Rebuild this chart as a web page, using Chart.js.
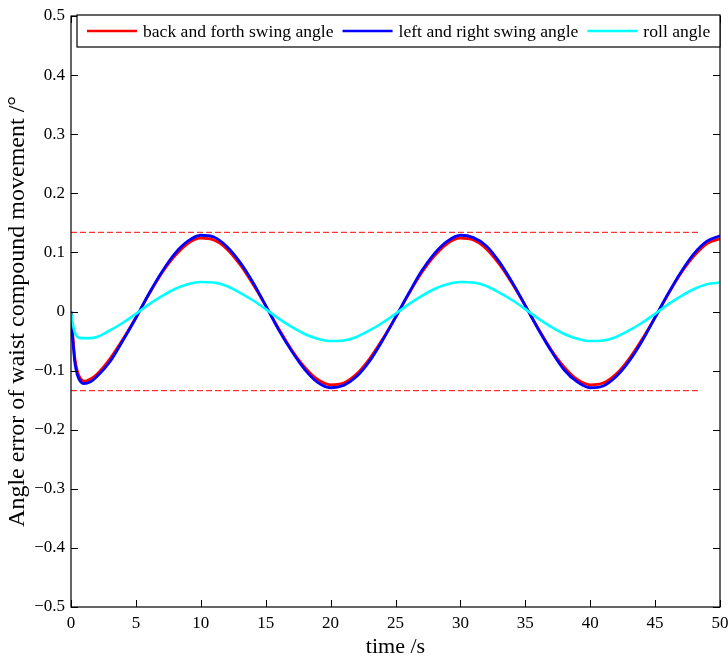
<!DOCTYPE html>
<html>
<head>
<meta charset="utf-8">
<script src="https://cdn.jsdelivr.net/npm/chart.js@4/dist/chart.umd.min.js"></script>
<style>
  html, body { margin: 0; padding: 0; background: #fff; }
  #wrap { width: 728px; height: 658px; }
</style>
</head>
<body>
<div id="wrap"><canvas id="c" width="728" height="658"></canvas></div>
<script>
// time samples (s)
const time = [0, 0.15, 0.3, 0.5, 0.75, 1, 1.5,
  2, 3, 4, 5, 6, 7, 8, 9, 10, 11, 12, 13, 14, 15, 16, 17, 18, 19, 20,
  21, 22, 23, 24, 25, 26, 27, 28, 29, 30, 31, 32, 33, 34, 35, 36, 37, 38, 39, 40,
  41, 42, 43, 44, 45, 46, 47, 48, 49, 50];

// back and forth swing angle error (°)
const backForth = [0, -0.045, -0.08, -0.102, -0.114, -0.118, -0.114,
  -0.106, -0.080, -0.047, -0.010, 0.029, 0.065, 0.094, 0.115, 0.124, 0.121, 0.106, 0.080, 0.047, 0.010,
  -0.029, -0.065, -0.094, -0.115, -0.124,
  -0.121, -0.106, -0.080, -0.047, -0.010, 0.029, 0.065, 0.094, 0.115, 0.124, 0.121, 0.106, 0.080, 0.047, 0.010,
  -0.029, -0.065, -0.094, -0.115, -0.124,
  -0.121, -0.106, -0.080, -0.047, -0.010, 0.029, 0.065, 0.094, 0.115, 0.123];

// left and right swing angle error (°)
const leftRight = [0, -0.05, -0.087, -0.108, -0.119, -0.122, -0.119,
  -0.110, -0.085, -0.049, -0.011, 0.030, 0.067, 0.098, 0.119, 0.129, 0.126, 0.110, 0.084, 0.050, 0.010,
  -0.031, -0.067, -0.098, -0.120, -0.129,
  -0.125, -0.110, -0.084, -0.049, -0.010, 0.030, 0.068, 0.098, 0.119, 0.129, 0.125, 0.111, 0.084, 0.049, 0.010,
  -0.030, -0.067, -0.099, -0.119, -0.129,
  -0.126, -0.110, -0.084, -0.050, -0.010, 0.030, 0.067, 0.098, 0.119, 0.128];

// roll angle error (°)
const roll = [0, -0.022, -0.036, -0.043, -0.045, -0.045, -0.045,
  -0.043, -0.032, -0.019, -0.004, 0.012, 0.026, 0.038, 0.046, 0.050, 0.049, 0.043, 0.032, 0.019, 0.004,
  -0.012, -0.026, -0.038, -0.046, -0.050,
  -0.049, -0.043, -0.032, -0.019, -0.004, 0.012, 0.026, 0.038, 0.046, 0.050, 0.049, 0.043, 0.032, 0.019, 0.004,
  -0.012, -0.026, -0.038, -0.046, -0.050,
  -0.049, -0.043, -0.032, -0.019, -0.004, 0.012, 0.026, 0.038, 0.046, 0.049];

// error bound lines
const boundTime = [0, 48.5];
const upperBound = [0.134, 0.134];
const lowerBound = [-0.134, -0.134];

const xTicks = [0, 5, 10, 15, 20, 25, 30, 35, 40, 45, 50];
const yTicks = [-0.5, -0.4, -0.3, -0.2, -0.1, 0, 0.1, 0.2, 0.3, 0.4, 0.5];

const seriesLabels = ['back and forth swing angle', 'left and right swing angle', 'roll angle'];
const seriesColors = ['#ff0000', '#0000ff', '#00ffff'];

const pts = (xs, ys) => xs.map((x, i) => ({ x: x, y: ys[i] }));

const FONT = '"Liberation Serif", "Times New Roman", serif';
Chart.defaults.font.family = FONT;
Chart.defaults.color = '#000';

// axes box with inward ticks on all four sides
const frame = {
  id: 'frame',
  afterDatasetsDraw(chart) {
    const { ctx, chartArea: a, scales } = chart;
    ctx.save();
    ctx.strokeStyle = '#000';
    ctx.lineWidth = 1.2;
    ctx.strokeRect(a.left, a.top, a.right - a.left, a.bottom - a.top);
    const L = 7;
    ctx.beginPath();
    xTicks.forEach(v => {
      const px = Math.round(scales.x.getPixelForValue(v)) + 0.5;
      ctx.moveTo(px, a.bottom); ctx.lineTo(px, a.bottom - L);
      ctx.moveTo(px, a.top); ctx.lineTo(px, a.top + L);
    });
    yTicks.forEach(v => {
      const py = Math.round(scales.y.getPixelForValue(v)) + 0.5;
      ctx.moveTo(a.left, py); ctx.lineTo(a.left + L, py);
      ctx.moveTo(a.right, py); ctx.lineTo(a.right - L, py);
    });
    ctx.lineWidth = 1;
    ctx.stroke();
    ctx.restore();
  }
};

// boxed legend in the top of the plot area
const boxLegend = {
  id: 'boxLegend',
  afterDraw(chart) {
    const { ctx, chartArea: a } = chart;
    ctx.save();
    ctx.font = '17.6px ' + FONT;
    const top = a.top - 1, h = 32, left = a.left + 6, right = a.right;
    ctx.fillStyle = '#fff';
    ctx.fillRect(left, top, right - left, h);
    ctx.strokeStyle = '#000';
    ctx.lineWidth = 1.2;
    ctx.strokeRect(left, top, right - left, h);
    const cy = top + h / 2;
    let x = left + 10;
    seriesLabels.forEach((lab, i) => {
      ctx.strokeStyle = seriesColors[i];
      ctx.lineWidth = 2.5;
      ctx.beginPath();
      ctx.moveTo(x, cy); ctx.lineTo(x + 50, cy);
      ctx.stroke();
      x += 56;
      ctx.fillStyle = '#000';
      ctx.textBaseline = 'middle';
      ctx.textAlign = 'left';
      ctx.fillText(lab, x, cy + 1);
      x += ctx.measureText(lab).width + 9;
    });
    ctx.restore();
  }
};

const fmt = v => {
  if (Math.abs(v) < 1e-9) return '0';
  const s = Math.abs(v).toFixed(1);
  return v < 0 ? '\u2212' + s : s;
};

new Chart(document.getElementById('c'), {
  type: 'line',
  data: {
    datasets: [
      { label: 'upper bound', data: pts(boundTime, upperBound), borderColor: '#ff0000', borderWidth: 1, borderDash: [6, 3], pointRadius: 0, order: 5 },
      { label: 'lower bound', data: pts(boundTime, lowerBound), borderColor: '#ff0000', borderWidth: 1, borderDash: [6, 3], pointRadius: 0, order: 5 },
      { label: seriesLabels[0], data: pts(time, backForth), borderColor: seriesColors[0], borderWidth: 2.8, pointRadius: 0, cubicInterpolationMode: 'monotone', order: 3 },
      { label: seriesLabels[1], data: pts(time, leftRight), borderColor: seriesColors[1], borderWidth: 2.8, pointRadius: 0, cubicInterpolationMode: 'monotone', order: 2 },
      { label: seriesLabels[2], data: pts(time, roll), borderColor: seriesColors[2], borderWidth: 2.6, pointRadius: 0, cubicInterpolationMode: 'monotone', order: 1 }
    ]
  },
  options: {
    responsive: false,
    animation: false,
    events: [],
    layout: { padding: { top: 16, right: 8, left: 0, bottom: 0 } },
    plugins: { legend: { display: false }, tooltip: { enabled: false } },
    scales: {
      x: {
        type: 'linear', min: 0, max: 50,
        afterBuildTicks: s => { s.ticks = xTicks.map(v => ({ value: v })); },
        afterFit: s => { s.height = 51; s.paddingLeft = 0; s.paddingRight = 0; },
        grid: { display: false, drawTicks: false },
        border: { display: false },
        ticks: { font: { size: 17 }, padding: 6, maxRotation: 0, callback: v => String(v) },
        title: { display: true, text: 'time /s', font: { size: 22, lineHeight: 1 }, padding: { top: 0, bottom: 0 } }
      },
      y: {
        type: 'linear', min: -0.5, max: 0.5,
        afterBuildTicks: s => { s.ticks = yTicks.map(v => ({ value: v })); },
        afterFit: s => { s.width = 71; s.paddingTop = 0; s.paddingBottom = 0; },
        grid: { display: false, drawTicks: false },
        border: { display: false },
        ticks: { font: { size: 17 }, padding: 6, callback: v => fmt(v) },
        title: { display: true, text: 'Angle error of waist compound movement /\u00b0', font: { size: 24, lineHeight: 1 }, padding: { top: 6, bottom: 0 } }
      }
    }
  },
  plugins: [frame, boxLegend]
});
</script>
</body>
</html>
